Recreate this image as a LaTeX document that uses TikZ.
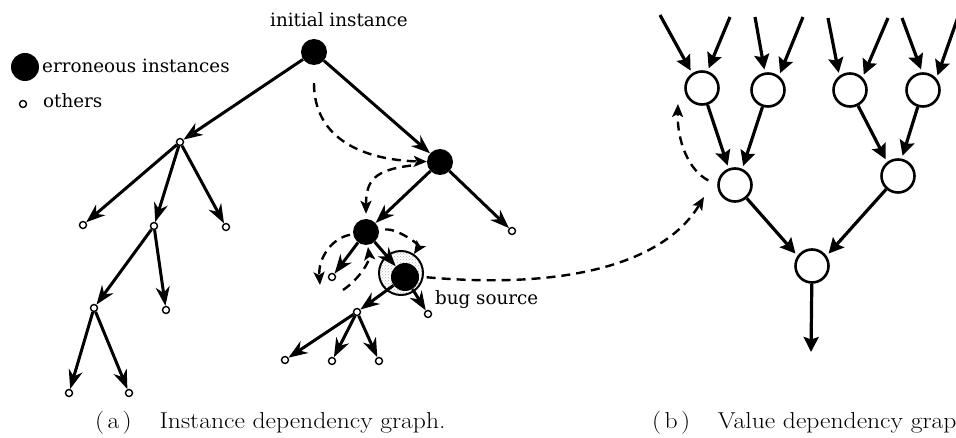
\documentclass[tikz,border=0pt]{standalone}
\usepackage{fontspec}
\usepackage{graphicx}
\newfontfamily\labelfont{DejaVu Serif}
\usetikzlibrary{arrows.meta,patterns}
\newcommand{\widecap}[1]{\scalebox{1.113}[1]{#1}}
\begin{document}
\begin{tikzpicture}[x=1pt,y=-1pt,
  err/.style={circle,fill=black,inner sep=0pt,minimum size=26pt},
  oth/.style={circle,draw=black,fill=white,line width=1.4pt,inner sep=0pt,minimum size=7pt},
  val/.style={circle,draw=black,fill=white,line width=2.6pt,inner sep=0pt,minimum size=33pt},
  dep/.style={line width=3pt,-{Stealth[length=19pt,width=14pt,inset=6pt]}},
  flow/.style={line width=3.2pt,-{Stealth[length=15pt,width=15pt,inset=2.5pt]},shorten >=3pt},
  trace/.style={line width=2.4pt,dash pattern=on 9pt off 6pt,-{Stealth[length=13pt,width=11pt,inset=3pt]}},
  lbl/.style={font=\labelfont\fontsize{18.3}{22}\selectfont,inner sep=0pt,anchor=base west},
  captext/.style={font=\fontsize{23}{26}\selectfont,inner sep=0pt,anchor=base west}]
\useasboundingbox (0,0) rectangle (956,438);

% legend
\node[err,minimum size=28pt] (legE) at (25,67) {};
\node[lbl] (legEt) at (42,73) {erroneous instances};
\node[oth] (legO) at (23,104) {};
\node[lbl] (legOt) at (43,108) {others};

% (a) instance dependency graph
\node[err] (root) at (314,52) {};
\node[lbl] (rootlbl) at (270,27) {initial instance};

\node[oth] (a1) at (180,142) {};
\node[oth] (a2) at (83,225) {};
\node[oth] (a3) at (154,226) {};
\node[oth] (a4) at (226,227) {};
\node[oth] (a5) at (94,308) {};
\node[oth] (a6) at (166,310) {};
\node[oth] (a7) at (69,393) {};
\node[oth] (a8) at (129,393) {};

\node[err] (b1) at (440,162) {};
\node[oth] (b1r) at (512,231) {};
\node[err] (b2) at (366,232) {};
\node[oth] (b2l) at (332,277) {};
\node[circle,draw=black,line width=2pt,pattern=crosshatch dots,pattern color=black!30,
      minimum size=44pt,inner sep=0pt] (ring) at (401,273) {};
\node[err,minimum size=28pt] (bug) at (405,277) {};
\node[lbl] (buglbl) at (435,305) {bug source};
\node[oth] (c1) at (357,312) {};
\node[oth] (c2) at (428,314) {};
\node[oth] (c3) at (285,360) {};
\node[oth] (c4) at (332,361) {};
\node[oth] (c5) at (379,361) {};

\draw[dep] (root) -- (a1);
\draw[dep] (root) -- (b1);
\draw[dep] (a1) -- (a2);
\draw[dep] (a1) -- (a3);
\draw[dep] (a1) -- (a4);
\draw[dep] (a3) -- (a5);
\draw[dep] (a3) -- (a6);
\draw[dep] (a5) -- (a7);
\draw[dep] (a5) -- (a8);
\draw[dep] (b1) -- (b2);
\draw[dep] (b1) -- (b1r);
\draw[dep] (b2) -- (b2l);
\draw[dep] (b2) -- (bug);
\draw[dep] (bug) -- (c1);
\draw[dep] (bug) -- (c2);
\draw[dep] (c1) -- (c3);
\draw[dep] (c1) -- (c4);
\draw[dep] (c1) -- (c5);

% (b) value dependency graph
\node[val] (n1) at (702,88) {};
\node[val] (n2) at (768,90) {};
\node[val] (n3) at (850,90) {};
\node[val] (n4) at (923,90) {};
\node[val] (m1) at (735,185) {};
\node[val] (m2) at (898,176) {};
\node[val] (bot) at (812,266) {};

\coordinate (in1a) at (660,15);
\coordinate (in1b) at (730,17);
\coordinate (in2a) at (755,17);
\coordinate (in2b) at (803,17);
\coordinate (in3a) at (828,18);
\coordinate (in3b) at (888,18);
\coordinate (in4a) at (902,18);
\coordinate (in4b) at (958,17);
\coordinate (out) at (811,352);

\draw[flow] (in1a) -- (n1.124);
\draw[flow] (in1b) -- (n1.72);
\draw[flow] (in2a) -- (n2.100);
\draw[flow] (in2b) -- (n2.52);
\draw[flow] (in3a) -- (n3.127);
\draw[flow] (in3b) -- (n3.45);
\draw[flow] (in4a) -- (n4.93);
\draw[flow] (in4b) -- (n4.41);
\draw[flow] (n1) -- (m1.111);
\draw[flow] (n2) -- (m1.66);
\draw[flow] (n3) -- (m2.128);
\draw[flow] (n4) -- (m2.78);
\draw[flow] (m1) -- (bot.145);
\draw[flow] (m2) -- (bot.35);
\draw[flow,shorten >=0pt] (bot) -- (out);

% debugging traces
\coordinate (t3end) at (320,285);
\coordinate (t5start) at (343,290);
\coordinate (t6end) at (704,197);
\coordinate (t7end) at (678,104);

\draw[trace,shorten <=18pt] (root) .. controls (314,140) and (365,160) .. (b1);
\draw[trace,shorten <=16pt,shorten >=5pt] (b1) .. controls (375,170) and (366,180) .. (b2);
\draw[trace,shorten <=3pt] (b2) .. controls (332,238) and (318,258) .. (t3end);
\draw[trace,shorten <=6pt] (b2) .. controls (397,228) and (420,245) .. (ring);
\draw[trace,shorten >=2pt] (t5start) .. controls (358,280) and (370,262) .. (b2);
\draw[trace,shorten <=3pt] (ring.-10) .. controls (570,290) and (665,262) .. (t6end);
\draw[trace,shorten <=10pt] (m1.west) .. controls (688,170) and (677,140) .. (t7end);

% captions
\node[captext] (capa) at (95,428) {\widecap{(\kern3pt a\kern3pt)\hspace{25pt}Instance dependency graph.}};
\node[captext] (capb) at (652,428) {\widecap{(\kern3pt b\kern3pt)\hspace{25pt}Value dependency graph.}};
\end{tikzpicture}
\end{document}
